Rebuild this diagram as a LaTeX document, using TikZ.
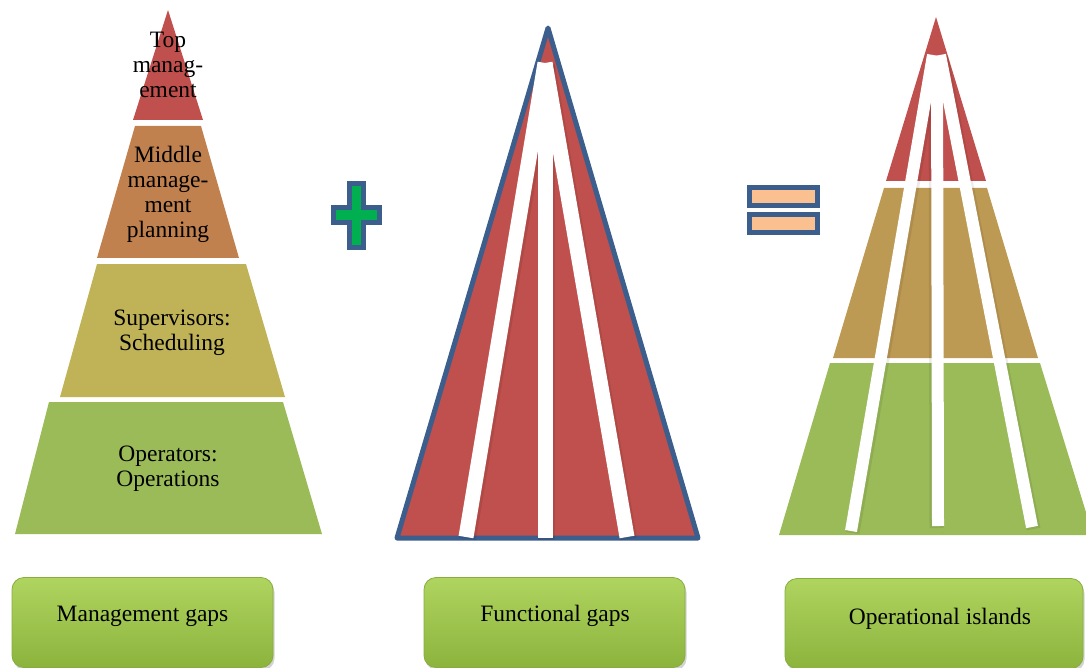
\documentclass[tikz,border=0pt]{standalone}
\usepackage{fontspec}
\setmainfont{Liberation Serif}
\usetikzlibrary{shadows}
\definecolor{tierred}{HTML}{C0504D}
\definecolor{tierorange}{HTML}{C0814F}
\definecolor{tierolive}{HTML}{BFB257}
\definecolor{tiertan}{HTML}{BD9A53}
\definecolor{tiergreen}{HTML}{9BBB59}
\definecolor{edgeblue}{HTML}{3B5E8C}
\definecolor{plusgreen}{HTML}{00B050}
\definecolor{peach}{HTML}{FAC090}
\definecolor{btntop}{HTML}{AFD45F}
\definecolor{btnbot}{HTML}{8CB43D}
\definecolor{btnedge}{HTML}{86AD3E}
\begin{document}
\begin{tikzpicture}[x=1pt,y=-1pt,
  lbl/.style={font=\fontsize{23.5}{25}\selectfont, align=center, inner sep=0pt, text=black},
  stripe/.style={draw=white, line width=15pt},
  thinstripe/.style={draw=white, line width=12pt},
  stripeshade/.style={draw=black, opacity=0.08, line width=17pt},
  thinshade/.style={draw=black, opacity=0.08, line width=14pt},
  sign/.style={draw=edgeblue, line width=5pt},
  button/.style={rectangle, rounded corners=12pt, draw=btnedge, line width=0.8pt,
    top color=btntop, bottom color=btnbot, minimum width=261pt, minimum height=90pt,
    drop shadow={shadow xshift=1.5pt, shadow yshift=-3pt, opacity=0.35}},
  btntext/.style={lbl}]
\useasboundingbox (0,0) rectangle (1086,668);

% ---- hierarchy pyramid ----
\fill[tierred]    (168,10) -- (203,120) -- (133,120) -- cycle;
\fill[tierorange] (135,126) -- (201,126) -- (239,258) -- (97,258) -- cycle;
\fill[tierolive]  (97,264) -- (246,264) -- (285,397) -- (60,397) -- cycle;
\fill[tiergreen]  (49,402) -- (283,402) -- (322,534) -- (15,534) -- cycle;
\node[lbl] (top) at (168,65) {Top\\manag-\\ement};
\node[lbl] (mid) at (168,194) {Middle\\manage-\\ment\\planning};
\node[lbl] (sup) at (172,333) {Supervisors:\\Scheduling};
\node[lbl] (ops) at (168,469) {Operators:\\Operations};

% ---- plus sign ----
\filldraw[sign, fill=plusgreen]
  (349.5,183.5) -- (363.5,183.5) -- (363.5,207.5) -- (379.5,207.5) -- (379.5,222.5)
  -- (363.5,222.5) -- (363.5,247.5) -- (349.5,247.5) -- (349.5,222.5) -- (333.5,222.5)
  -- (333.5,207.5) -- (349.5,207.5) -- cycle;

% ---- functional pyramid with vertical gaps ----
\filldraw[draw=edgeblue, line width=5pt, line join=round, fill=tierred]
  (548,28) -- (698,538) -- (397,538) -- cycle;
\coordinate (fa) at (545,63);
\coordinate (fl) at (466,537);
\coordinate (fm) at (545,538);
\coordinate (fr) at (627,537);
\draw[stripeshade] ([xshift=1.5pt,yshift=-2pt]fa) -- ([xshift=1.5pt,yshift=-2pt]fl);
\draw[stripeshade] ([xshift=1.5pt,yshift=-2pt]fa) -- ([xshift=1.5pt,yshift=-2pt]fm);
\draw[stripeshade] ([xshift=1.5pt,yshift=-2pt]fa) -- ([xshift=1.5pt,yshift=-2pt]fr);
\draw[stripe] (fa) -- (fl);
\draw[stripe] (fa) -- (fm);
\draw[stripe] (fa) -- (fr);

% ---- equals sign ----
\filldraw[sign, fill=peach] (749.5,187.5) rectangle (817.5,205.5);
\filldraw[sign, fill=peach] (749.5,214.5) rectangle (817.5,232.5);

% ---- resulting pyramid: layers split by the gaps ----
\fill[tierred]   (936,17) -- (986,181) -- (886,181) -- cycle;
\fill[tiertan]   (884,188) -- (987,188) -- (1038,358) -- (833,358) -- cycle;
\fill[tiergreen] (830,363) -- (1040,363) -- (1093,535) -- (779,535) -- cycle;
\coordinate (oal) at (933,55);
\coordinate (oam) at (937,58);
\coordinate (oar) at (940,55);
\coordinate (ol) at (851,531);
\coordinate (om) at (938,526);
\coordinate (or) at (1032,527);
\draw[thinshade] ([xshift=1.5pt,yshift=-2pt]oal) -- ([xshift=1.5pt,yshift=-2pt]ol);
\draw[thinshade] ([xshift=-1.5pt,yshift=-2pt]oam) -- ([xshift=-1.5pt,yshift=-2pt]om);
\draw[thinshade] ([xshift=1.5pt,yshift=-2pt]oar) -- ([xshift=1.5pt,yshift=-2pt]or);
\draw[thinstripe] (oal) -- (ol);
\draw[thinstripe] (oam) -- (om);
\draw[thinstripe] (oar) -- (or);

% ---- captions ----
\node[button] (b1) at (142.5,622.5) {};
\node[button] (b2) at (554.5,622.5) {};
\node[button, minimum width=298pt] (b3) at (934,623.5) {};
\node[btntext] (c1) at (142.5,616) {Management gaps};
\node[btntext] (c2) at (555,616) {Functional gaps};
\node[btntext] (c3) at (940,619) {Operational islands};
\end{tikzpicture}
\end{document}
